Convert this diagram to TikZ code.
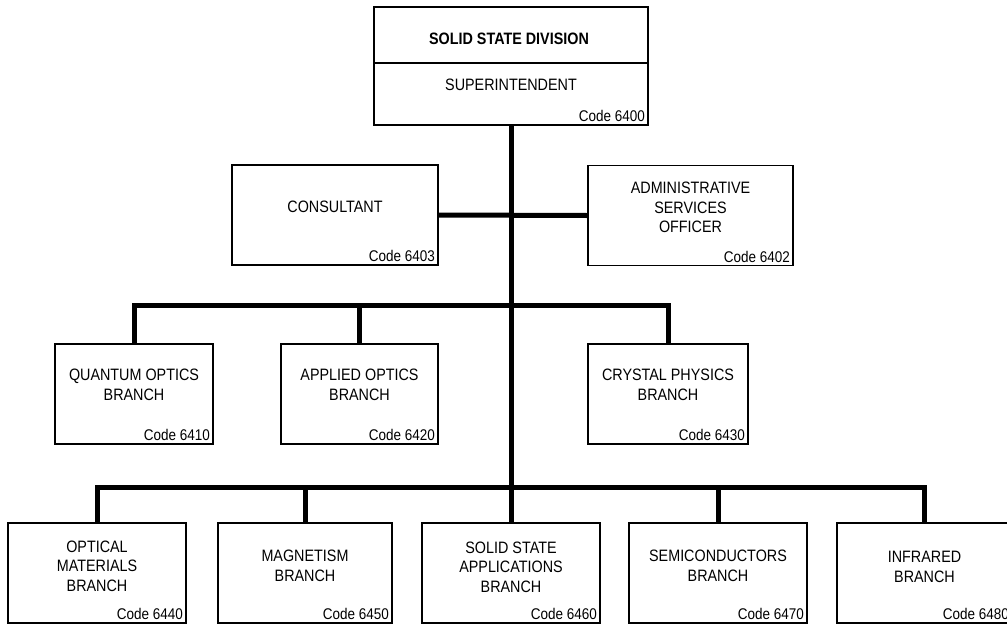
\documentclass[tikz,border=0pt]{standalone}
\usepackage{fontspec}
\setmainfont{Liberation Sans}[FakeStretch=0.87]
\usetikzlibrary{positioning, calc}

\begin{document}
\begin{tikzpicture}[x=1pt, y=-1pt,
    unit/.style={draw, line width=1.2pt, inner sep=0pt, minimum height=100pt},
    conn/.style={line width=5pt, line join=miter},
    title/.style={align=center, inner sep=0pt, font=\fontsize{16.5}{19.5}\selectfont},
    codelbl/.style={anchor=south east, inner sep=3.5pt, font=\fontsize{15.5}{17}\selectfont}]
        \useasboundingbox (0,0) rectangle (1007,624);

        % Division head
        \node[unit, minimum width=274pt, minimum height=118pt] (sup) at (511,66) {};
        \draw[line width=1.2pt] (sup.west |- 0,63) -- (sup.east |- 0,63);
        \node[title, font=\bfseries\fontsize{16.5}{19.5}\selectfont] (supT) at (509,39) {SOLID STATE DIVISION};
        \node[title] (supS) at (511,85) {SUPERINTENDENT};
        \node[codelbl] (supC) at (sup.south east) {Code 6400};

        % Staff
        \node[unit, minimum width=206pt] (cons) at (335,215) {};
        \node[title] (consT) at ([yshift=8pt]cons.center) {CONSULTANT};
        \node[codelbl] (consC) at (cons.south east) {Code 6403};
        \node[unit, minimum width=205pt] (admin) at (690.5,215.5) {};
        \node[title] (adminT) at ([yshift=8pt]admin.center) {ADMINISTRATIVE\\SERVICES\\OFFICER};
        \node[codelbl] (adminC) at (admin.south east) {Code 6402};

        % First row of branches
        \node[unit, minimum width=158pt] (quant) at (134,394) {};
        \node[title] (quantT) at ([yshift=9pt]quant.center) {QUANTUM OPTICS\\BRANCH};
        \node[codelbl] (quantC) at (quant.south east) {Code 6410};
        \node[unit, minimum width=157pt] (appl) at (359.5,394) {};
        \node[title] (applT) at ([yshift=9pt]appl.center) {APPLIED OPTICS\\BRANCH};
        \node[codelbl] (applC) at (appl.south east) {Code 6420};
        \node[unit, minimum width=160pt] (cryst) at (668,394) {};
        \node[title] (crystT) at ([yshift=9pt]cryst.center) {CRYSTAL PHYSICS\\BRANCH};
        \node[codelbl] (crystC) at (cryst.south east) {Code 6430};

        % Second row of branches
        \node[unit, minimum width=178pt] (optm) at (97,573) {};
        \node[title] (optmT) at ([yshift=7pt]optm.center) {OPTICAL\\MATERIALS\\BRANCH};
        \node[codelbl] (optmC) at (optm.south east) {Code 6440};
        \node[unit, minimum width=174pt] (magn) at (305,573) {};
        \node[title] (magnT) at ([yshift=7pt]magn.center) {MAGNETISM\\BRANCH};
        \node[codelbl] (magnC) at (magn.south east) {Code 6450};
        \node[unit, minimum width=178pt] (ssa) at (511,573) {};
        \node[title] (ssaT) at ([yshift=6pt]ssa.center) {SOLID STATE\\APPLICATIONS\\BRANCH};
        \node[codelbl] (ssaC) at (ssa.south east) {Code 6460};
        \node[unit, minimum width=178pt] (semi) at (718,573) {};
        \node[title] (semiT) at ([yshift=7pt]semi.center) {SEMICONDUCTORS\\BRANCH};
        \node[codelbl] (semiC) at (semi.south east) {Code 6470};
        \node[unit, minimum width=175pt] (infra) at (924.5,573) {};
        \node[title] (infraT) at ([yshift=6pt]infra.center) {INFRARED\\BRANCH};
        \node[codelbl] (infraC) at (infra.south east) {Code 6480};

        % Lines of authority
        \coordinate (rowA) at (511,305);
        \coordinate (rowB) at (511,487);
        \draw[conn] (sup.south) -- (ssa.north);
        \draw[conn] (cons.east) -- (admin.west);
        \draw[conn] (quant.north) |- (rowA) -| (cryst.north);
        \draw[conn] (appl.north) -- (appl.north |- rowA);
        \draw[conn] (optm.north) |- (rowB) -| (infra.north);
        \draw[conn] (magn.north) -- (magn.north |- rowB);
        \draw[conn] (semi.north) -- (semi.north |- rowB);
    \end{tikzpicture}
\end{document}
